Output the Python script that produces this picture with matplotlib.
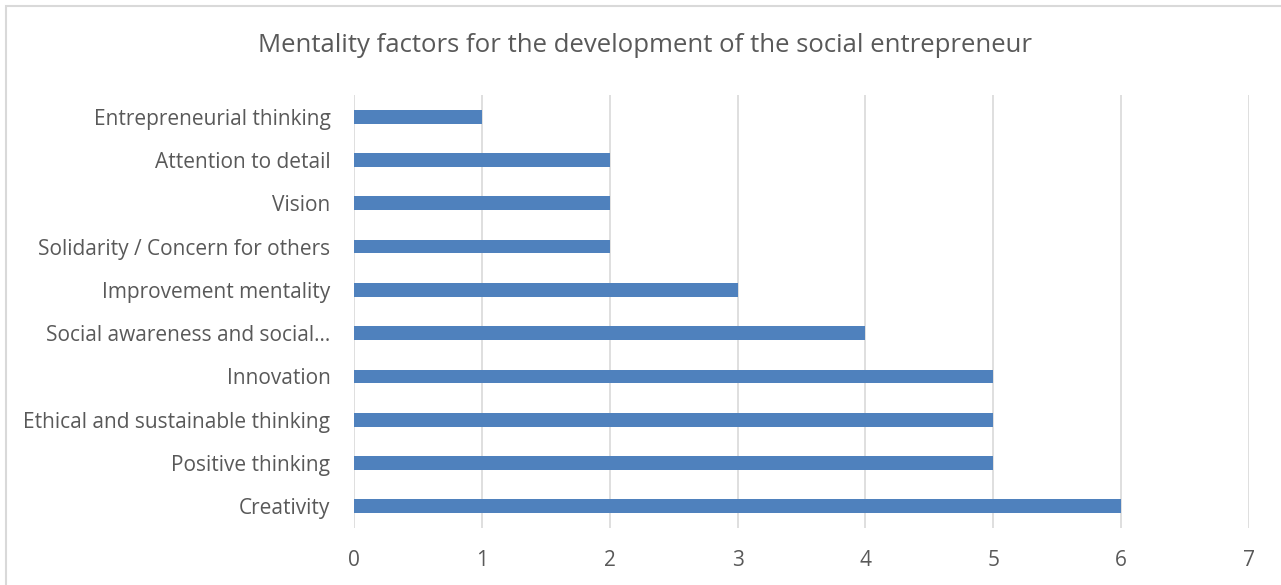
import matplotlib
matplotlib.use("Agg")
import matplotlib.pyplot as plt
from matplotlib.patches import Rectangle

categories = [
    "Creativity",
    "Positive thinking",
    "Ethical and sustainable thinking",
    "Innovation",
    "Social awareness and social…",
    "Improvement mentality",
    "Solidarity / Concern for others",
    "Vision",
    "Attention to detail",
    "Entrepreneurial thinking",
]
values = [6, 5, 5, 5, 4, 3, 2, 2, 2, 1]
xticks = [0, 1, 2, 3, 4, 5, 6, 7]
title = "Mentality factors for the development of the social entrepreneur"

plt.rcParams['font.family'] = ['Open Sans', 'DejaVu Sans']
txt = '#595959'

fig = plt.figure(figsize=(12.81, 5.85), dpi=100)
ax = fig.add_axes([354/1281, 1-528/585, (1249-354)/1281, (528-95)/585])

ypos = list(range(len(categories)))
ax.barh(ypos, values, height=0.32, color='#4f81bd', zorder=3)
ax.set_ylim(-0.5, len(categories)-0.5)
ax.set_xlim(0, 7)
ax.set_xticks(xticks)
ax.set_xticklabels([str(t) for t in xticks])
ax.set_yticks(ypos)
ax.set_yticklabels(categories)
ax.grid(axis='x', color='#d9d9d9', linewidth=1.2, zorder=0)
ax.tick_params(axis='both', length=0, labelcolor=txt, labelsize=15)
ax.tick_params(axis='y', pad=17)
ax.tick_params(axis='x', pad=16)
for s in ax.spines.values():
    s.set_visible(False)

fig.text(645/1281, 1-45/585, title, ha='center', va='center', fontsize=18.5, color=txt)

fig.patches.append(Rectangle((6/1281, -0.02), 1.02, 1-6/585+0.02, transform=fig.transFigure,
                             fill=False, edgecolor='#d9d9d9', linewidth=1.5))

fig.savefig("out.png", dpi=100)
